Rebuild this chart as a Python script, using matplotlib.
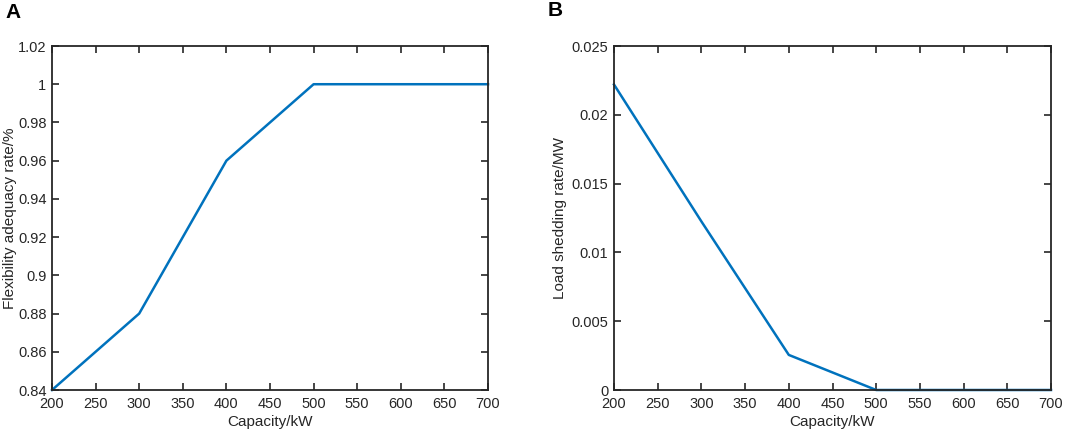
import matplotlib.pyplot as plt

plt.rcParams['font.family'] = ['Liberation Sans', 'DejaVu Sans']

# data
capacity = [200, 300, 400, 500, 600, 700]
flex_rate = [0.84, 0.88, 0.96, 1.0, 1.0, 1.0]
load_shed = [0.0222, 0.01225, 0.00255, 0.0, 0.0, 0.0]

x_ticks = [200, 250, 300, 350, 400, 450, 500, 550, 600, 650, 700]
flex_ticks = [0.84, 0.86, 0.88, 0.9, 0.92, 0.94, 0.96, 0.98, 1.0, 1.02]
flex_labels = ['0.84', '0.86', '0.88', '0.9', '0.92', '0.94', '0.96', '0.98', '1', '1.02']
shed_ticks = [0, 0.005, 0.01, 0.015, 0.02, 0.025]
shed_labels = ['0', '0.005', '0.01', '0.015', '0.02', '0.025']

W, H = 1065, 438
fig = plt.figure(figsize=(W / 100, H / 100), dpi=100)
ax1 = fig.add_axes([52 / W, 1 - 390 / H, 436 / W, 344 / H])
ax2 = fig.add_axes([614 / W, 1 - 390 / H, 437 / W, 344 / H])

line_color = '#0072BD'
txt = '#262626'

def style(ax):
    ax.tick_params(direction='in', top=True, right=True, length=5, width=1.2,
                   labelsize=10.5, colors=txt, pad=4)
    ax.tick_params(axis='x', pad=5)
    for s in ax.spines.values():
        s.set_linewidth(1.3)
        s.set_color(txt)
    ax.set_xlim(200, 700)
    ax.set_xticks(x_ticks)
    ax.set_xlabel('Capacity/kW', fontsize=11, color=txt, labelpad=3)

ax1.plot(capacity, flex_rate, color=line_color, lw=1.8, clip_on=False)
style(ax1)
ax1.set_ylim(0.84, 1.02)
ax1.set_yticks(flex_ticks)
ax1.set_yticklabels(flex_labels)
ax1.set_ylabel('Flexibility adequacy rate/%', fontsize=11, color=txt, labelpad=1)

ax2.plot(capacity, load_shed, color=line_color, lw=1.8, clip_on=False)
style(ax2)
ax2.set_ylim(0, 0.025)
ax2.set_yticks(shed_ticks)
ax2.set_yticklabels(shed_labels)
ax2.set_ylabel('Load shedding rate/MW', fontsize=11, color=txt, labelpad=3)

fig.text(5 / W, 1 - 13 / H, 'A', fontsize=15, fontweight='bold', va='center', ha='left')
fig.text(548 / W, 1 - 11 / H, 'B', fontsize=15, fontweight='bold', va='center', ha='left')

fig.savefig('out.png', dpi=100)
